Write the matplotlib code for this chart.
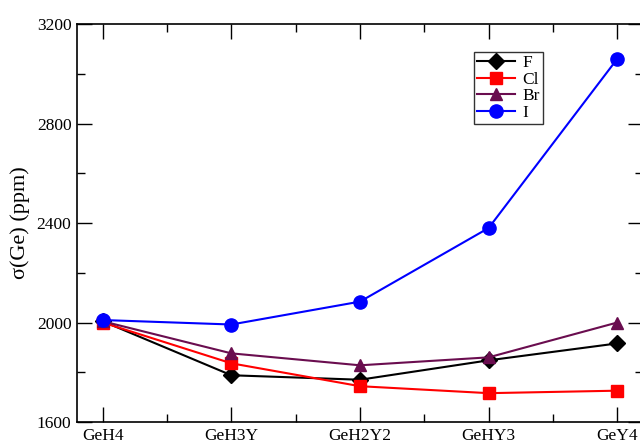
import matplotlib
matplotlib.use('Agg')
import matplotlib.pyplot as plt
from matplotlib.ticker import MultipleLocator

# Shielding of Ge in GeH(4-n)Y(n) molecules.
molecules = ['GeH4', 'GeH3Y', 'GeH2Y2', 'GeHY3', 'GeY4']
sigma_F  = [2005, 1788, 1770, 1848, 1916]
sigma_Cl = [2000, 1836, 1744, 1716, 1726]
sigma_Br = [2005, 1876, 1828, 1860, 2000]
sigma_I  = [2010, 1992, 2084, 2380, 3060]

series = [
        ('F',  sigma_F,  'black',   'D'),
        ('Cl', sigma_Cl, '#ff0000', 's'),
        ('Br', sigma_Br, '#6a0d4f', '^'),
        ('I',  sigma_I,  '#0000ff', 'o'),
]
sizes = {'D': 8, 's': 9, '^': 9, 'o': 9.5}

plt.rcParams['font.family'] = ['Liberation Serif', 'DejaVu Serif']

fig = plt.figure(figsize=(6.4, 4.42), dpi=100)
# the right spine sits just outside the picture, as in the cropped original
ax = fig.add_axes([0.1203, 0.0452, 0.8844, 0.9005])

x = list(range(len(molecules)))
for name, y, color, marker in series:
    ax.plot(
            x, y,
            color=color,
            linewidth=1.5,
            marker=marker,
            markersize=sizes[marker],
            markerfacecolor=color,
            markeredgecolor=color,
            label=name,
    )

ax.set_xlim(-0.2, 4.2)
ax.set_ylim(1600, 3200)
ax.set_xticks(x)
ax.set_xticklabels(molecules)
ax.xaxis.set_minor_locator(MultipleLocator(0.5))
ax.yaxis.set_major_locator(MultipleLocator(400))
ax.yaxis.set_minor_locator(MultipleLocator(200))
ax.tick_params(which='both', direction='in', top=True, right=True,
               labelsize=12.5, width=1)
ax.tick_params(which='major', length=11, pad=4)
ax.tick_params(which='minor', length=6)
for s in ax.spines.values():
    s.set_linewidth(1.2)

ax.set_ylabel('σ(Ge) (ppm)', fontsize=16, labelpad=5)

leg = ax.legend(
        loc='upper left',
        bbox_to_anchor=(0.701, 0.93),
        fontsize=12.5,
        frameon=True,
        fancybox=False,
        edgecolor='black',
        handlelength=2.2,
        handletextpad=0.4,
        labelspacing=0.02,
        borderpad=0.2,
        borderaxespad=0,
)
leg.get_frame().set_linewidth(1.0)

fig.savefig('out.png', dpi=100)
